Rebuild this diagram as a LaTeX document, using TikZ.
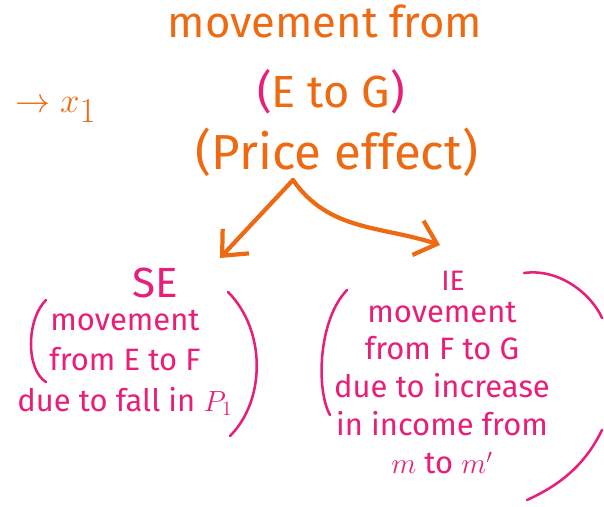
\documentclass[tikz,border=0pt]{standalone}
\usepackage{fontspec}
\setmainfont{Fira Sans}
\usetikzlibrary{positioning,arrows.meta}

\definecolor{penorange}{HTML}{EE6A12}
\definecolor{penpink}{HTML}{E81E78}

\begin{document}
\begin{tikzpicture}[
	x=0.025cm, y=-0.025cm,
	big/.style={
		text=penorange,
		font=\fontsize{32}{36}\selectfont,
		inner sep=1pt
	},
	note/.style={
		text=penpink,
		align=center,
		inner sep=1pt
	},
	head/.style={
		text=penpink,
		inner sep=1pt
	},
	branch/.style={
		draw=penorange,
		line width=3pt,
		line cap=round,
		-{Straight Barb[length=5mm,width=9mm,line width=3pt]}
	},
	paren/.style={
		draw=penpink,
		line width=1.8pt,
		line cap=round
	}
	]
	
	\useasboundingbox (0,0) rectangle (604,506);
	
	% cut-off bits at the page edges
	\node[big, anchor=base west, font=\fontsize{31}{34}\selectfont] (top) at (166,37) {movement from};
	\node[big, anchor=base east, font=\fontsize{36}{38}\selectfont] (xone) at (98,112) {$\rightarrow x_1$};
	
	% price effect
	\node[big] (eg) at (331,92) {\textcolor{penpink}{(}E to G\textcolor{penpink}{)}};
	\node[big, font=\fontsize{35}{38}\selectfont] (pe) at (337,152) {(Price effect)};
	\coordinate (fork) at (293,180);
	
	% substitution effect
	\node[head, font=\fontsize{30}{32}\selectfont] (se) at (155,283) {SE};
	\node[note, anchor=north, font=\fontsize{22}{29}\selectfont] (sebody) at (125,308)
	{movement\\from E to F\\due to fall in $P_1$};
	
	% income effect
	\node[head, font=\fontsize{20}{22}\selectfont] (ie) at (453,281) {IE};
	\node[note, anchor=north, font=\fontsize{22}{27}\selectfont] (iebody) at (442,300)
	{movement\\from F to G\\due to increase\\in income from\\$m$ to $m'$};
	
	\draw[branch] (fork) -- (220,258);
	\draw[branch] (fork) to[out=-55, in=162] (440,245);
	
	% brackets round the notes
	\draw[paren] (46,300) .. controls (26,320) and (26,370) .. (46,382);
	\draw[paren] (228,292) .. controls (266,330) and (266,400) .. (230,436);
	\draw[paren] (347,290) .. controls (318,320) and (316,390) .. (330,415);
	\draw[paren] (524,273) .. controls (560,268) and (592,295) .. (602,318);
	\draw[paren] (602,430) .. controls (585,465) and (560,485) .. (527,500);
\end{tikzpicture}
\end{document}
